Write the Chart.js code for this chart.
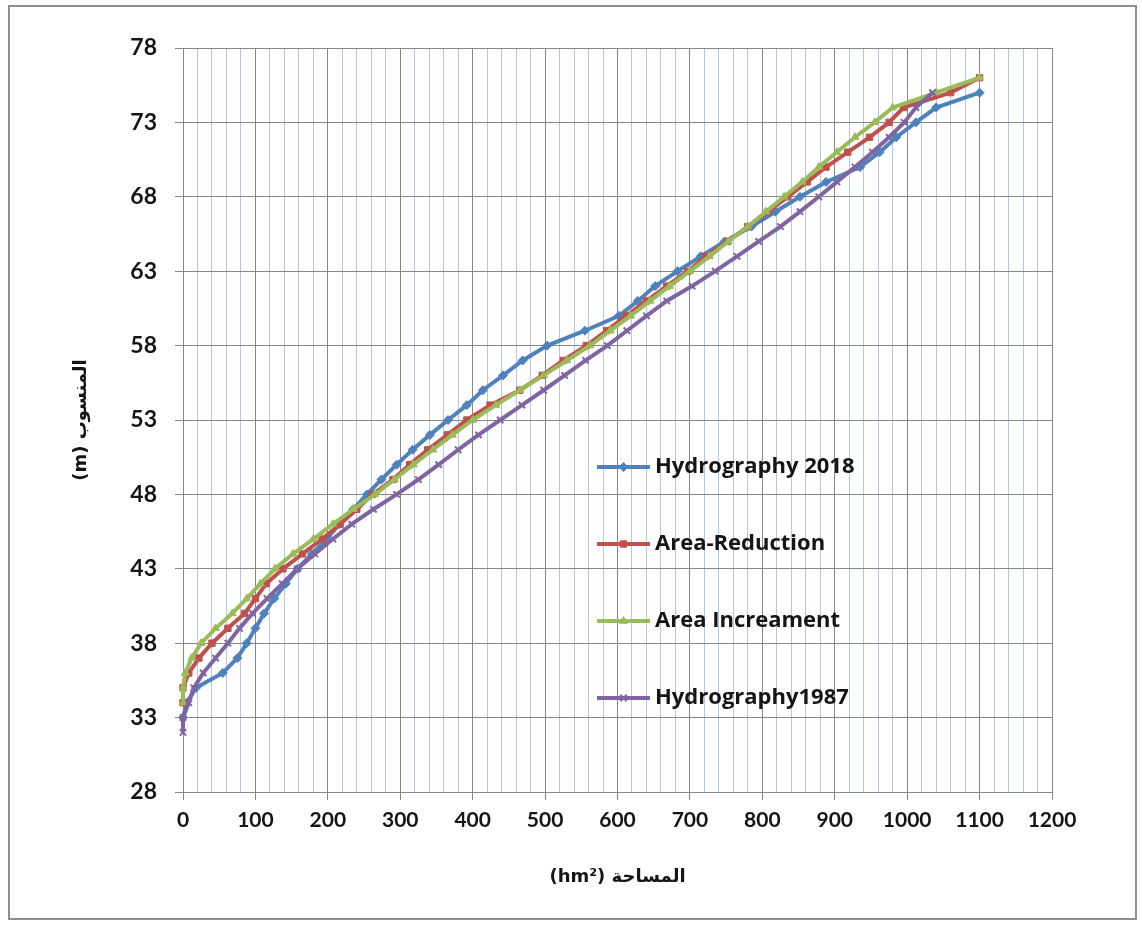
<!DOCTYPE html>
<html>
<head>
<meta charset="utf-8">
<title>Area - elevation curves</title>
<script src="https://cdn.jsdelivr.net/npm/chart.js@4.4.0/dist/chart.umd.min.js"></script>
<style>
  html, body { margin: 0; padding: 0; background: #fff; }
  #wrap { position: relative; width: 1142px; height: 927px; }
</style>
</head>
<body>
<div id="wrap"><canvas id="chart"></canvas></div>
<script>
"use strict";

// elevation levels (m) and matching areas (hm2)
var levels2018 = [33,34,35,36,37,38,39,40,41,42,43,44,45,46,47,48,49,50,51,52,53,54,55,56,57,58,59,60,61,62,63,64,65,66,67,68,69,70,71,72,73,74,75];
var area2018 = [0,5,18,55,75,88,100,112,126,142,158,178,198,216,235,254,274,295,317,341,366,392,414,442,469,503,555,602,628,652,683,715,748,785,818,852,888,935,962,985,1012,1040,1100];

var levelsReduction = [34,35,36,37,38,39,40,41,42,43,44,45,46,47,48,49,50,51,52,53,54,55,56,57,58,59,60,61,62,63,64,65,66,67,68,69,70,71,72,73,74,75,76];
var areaReduction = [0,0,8,22,40,62,85,100,115,138,165,192,217,240,262,290,313,338,365,392,424,465,496,525,557,585,612,640,668,697,722,752,780,808,835,862,888,918,948,975,995,1060,1100];

var levelsIncrement = [34,35,36,37,38,39,40,41,42,43,44,45,46,47,48,49,50,51,52,53,54,55,56,57,58,59,60,61,62,63,64,65,66,67,68,69,70,71,72,73,74,75,76];
var areaIncrement = [0,0,3,12,25,45,68,88,107,127,152,180,207,235,265,292,318,345,372,400,432,465,498,530,562,590,618,645,672,700,727,753,780,805,830,855,878,903,928,955,980,1040,1100];

var levels1987 = [32,33,34,35,36,37,38,39,40,41,42,43,44,45,46,47,48,49,50,51,52,53,54,55,56,57,58,59,60,61,62,63,64,65,66,67,68,69,70,71,72,73,74,75];
var area1987 = [0,0,8,15,28,45,62,78,96,116,137,158,182,207,233,263,295,325,353,380,408,438,468,498,527,556,586,613,640,668,703,735,765,795,825,852,878,903,928,952,975,996,1012,1035];

var seriesNames = ['Hydrography 2018', 'Area-Reduction', 'Area Increament', 'Hydrography1987'];
var seriesColors = ['#4F81BD', '#C0504D', '#9BBB59', '#8064A2'];
var seriesMarkers = ['rectRot', 'rect', 'triangle', 'crossRot'];

function toPoints(areas, levels) {
    var pts = [];
    for (var i = 0; i < areas.length; i++) {
        pts.push({ x: areas[i], y: levels[i] });
    }
    return pts;
}

var seriesData = [
    toPoints(area2018, levels2018),
    toPoints(areaReduction, levelsReduction),
    toPoints(areaIncrement, levelsIncrement),
    toPoints(area1987, levels1987)
];

var gridMajor = '#868686';
var gridMinor = '#b3c8e6';
var tickFont = { family: 'Lato', weight: 'bold', size: 21 };

// grey frame round the whole chart
var framePlugin = {
    id: 'frame',
    beforeDraw: function(chart) {
        var ctx = chart.ctx;
        ctx.save();
        ctx.fillStyle = '#fff';
        ctx.fillRect(0, 0, chart.width, chart.height);
        ctx.strokeStyle = '#8e8e8e';
        ctx.lineWidth = 2;
        ctx.strokeRect(9, 6, 1127, 913);
        ctx.restore();
    }
};

// legend sits inside the plot area, one entry per row
var insideLegend = {
    id: 'insideLegend',
    afterDatasetsDraw: function(chart) {
        var ctx = chart.ctx;
        var x0 = 597, x1 = 650, y0 = 467, rowGap = 77;
        ctx.save();
        chart.data.datasets.forEach(function(ds, i) {
            var y = y0 + i * rowGap;
            ctx.strokeStyle = ds.borderColor;
            ctx.lineWidth = 4;
            ctx.beginPath();
            ctx.moveTo(x0, y);
            ctx.lineTo(x1, y);
            ctx.stroke();
            ctx.fillStyle = ds.pointBackgroundColor;
            ctx.strokeStyle = ds.pointBorderColor;
            ctx.lineWidth = ds.pointBorderWidth;
            Chart.helpers.drawPoint(ctx, { pointStyle: ds.pointStyle, radius: ds.pointRadius, rotation: 0, borderWidth: ds.pointBorderWidth }, (x0 + x1) / 2, y);
            ctx.fillStyle = '#151515';
            ctx.font = 'bold 22px "Open Sans"';
            ctx.textAlign = 'left';
            ctx.textBaseline = 'middle';
            ctx.fillText(ds.label, x1 + 5, y);
        });
        ctx.restore();
    }
};

var datasets = seriesNames.map(function(name, i) {
    return {
        label: name,
        data: seriesData[i],
        borderColor: seriesColors[i],
        backgroundColor: seriesColors[i],
        borderWidth: 4,
        pointStyle: seriesMarkers[i],
        pointRadius: 4.5,
        pointBackgroundColor: seriesColors[i],
        pointBorderColor: seriesColors[i],
        pointBorderWidth: i === 3 ? 2 : 1,
        showLine: true,
        tension: 0,
        clip: false,
        order: 4 - i
    };
});

new Chart(document.getElementById('chart').getContext('2d'), {
    type: 'scatter',
    data: { datasets: datasets },
    options: {
        responsive: true,
        maintainAspectRatio: false,
        animation: false,
        layout: { padding: { left: 58, right: 90, top: 48, bottom: 30 } },
        plugins: {
            legend: { display: false },
            tooltip: { enabled: false }
        },
        scales: {
            x: {
                type: 'linear',
                min: 0,
                max: 1200,
                ticks: {
                    stepSize: 20,
                    autoSkip: false,
                    maxRotation: 0,
                    padding: 8,
                    color: '#151515',
                    font: tickFont,
                    callback: function(v) { return v % 100 === 0 ? v : ''; }
                },
                grid: {
                    color: function(c) { return c.tick && c.tick.value % 100 === 0 ? gridMajor : gridMinor; },
                    tickColor: function(c) { return c.tick && c.tick.value % 100 === 0 ? gridMajor : 'rgba(0,0,0,0)'; },
                    tickLength: 8,
                    lineWidth: 1
                },
                border: { color: gridMajor, width: 1 },
                title: {
                    display: true,
                    text: '(hm²) المساحة',
                    color: '#151515',
                    font: { family: 'DejaVu Sans', weight: 'bold', size: 18 },
                    padding: { top: 0, bottom: 9 }
                },
                afterFit: function(scale) { scale.height = 105; }
            },
            y: {
                type: 'linear',
                min: 28,
                max: 78,
                ticks: {
                    stepSize: 5,
                    padding: 18,
                    color: '#151515',
                    font: { family: 'Lato', weight: 'bold', size: 23 }
                },
                grid: {
                    color: gridMajor,
                    tickColor: gridMajor,
                    tickLength: 8,
                    lineWidth: 1
                },
                border: { color: gridMajor, width: 1 },
                title: {
                    display: true,
                    text: '(m) المنسوب',
                    color: '#151515',
                    font: { family: 'DejaVu Sans', weight: 'bold', size: 18 },
                    padding: { top: 13, bottom: 0 }
                },
                afterFit: function(scale) { scale.width = 125; }
            }
        }
    },
    plugins: [framePlugin, insideLegend]
});
</script>
</body>
</html>
